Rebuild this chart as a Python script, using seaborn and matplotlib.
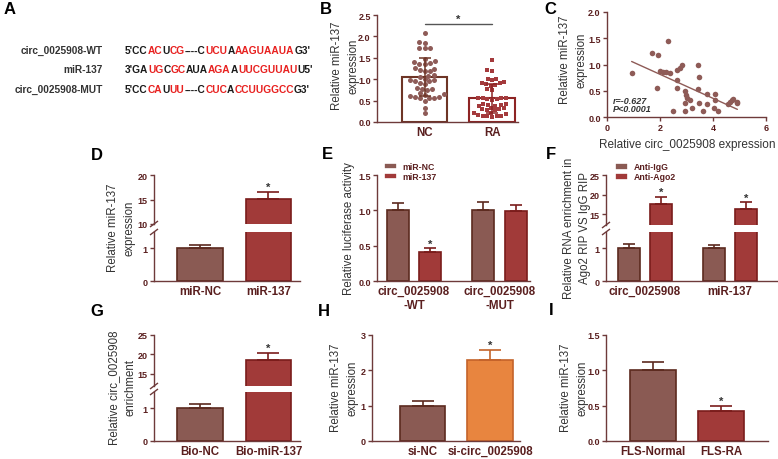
import warnings
import numpy as np
import pandas as pd
import matplotlib.pyplot as plt
import seaborn as sns

warnings.filterwarnings("ignore")

# ---------------- data ----------------
# A: sequences as (text, colour key) pieces
seq_names = ["circ_0025908-WT", "miR-137", "circ_0025908-MUT"]
seq_wt = [("5'CC", "k"), ("AC", "r"), ("U", "k"), ("CG", "r"), ("----C", "k"),
          ("UCU", "r"), ("A", "k"), ("AAGUAAUA", "r"), ("G3'", "k")]
seq_mir = [("3'GA", "k"), ("UG", "r"), ("C", "k"), ("GC", "r"), ("AUA", "k"),
           ("AGA", "r"), ("A", "k"), ("UUCGUUAU", "r"), ("U5'", "k")]
seq_mut = [("5'CC", "k"), ("CA", "r"), ("U", "k"), ("UU", "r"), ("----C", "k"),
           ("CUC", "r"), ("A", "k"), ("CCUUGGCC", "r"), ("G3'", "k")]

# B: individual samples
b_groups = ["NC", "RA"]
b_nc = [2.09, 1.86, 1.84, 1.74, 1.72, 1.73, 1.48, 1.42, 1.40, 1.38, 1.36, 1.35,
        1.27, 1.25, 1.22, 1.20, 1.18, 1.10, 1.08, 1.06, 1.00, 0.98, 0.97, 0.96,
        0.95, 0.90, 0.88, 0.80, 0.78, 0.76, 0.74, 0.68, 0.65, 0.64, 0.60, 0.59,
        0.58, 0.57, 0.56, 0.55, 0.50, 0.32, 0.20]
b_ra = [1.45, 1.22, 1.20, 1.00, 1.00, 0.97, 0.93, 0.92, 0.90, 0.88, 0.86, 0.84,
        0.76, 0.74, 0.57, 0.56, 0.55, 0.55, 0.54, 0.53, 0.52, 0.42, 0.41, 0.40,
        0.40, 0.38, 0.37, 0.33, 0.32, 0.30, 0.30, 0.28, 0.27, 0.22, 0.20, 0.18,
        0.16, 0.15, 0.14, 0.13, 0.13, 0.12]

# C: correlation
c_x = [0.93, 1.71, 1.94, 2.29, 1.90, 2.00, 2.13, 2.21, 2.38, 2.63, 2.63, 2.48, 2.65,
       2.75, 2.82, 2.94, 2.98, 3.03, 2.94, 2.94, 3.13, 3.20, 3.42, 3.46, 3.42, 3.48,
       3.61, 3.76, 3.79, 4.07, 4.07, 4.04, 4.20, 4.58, 4.64, 4.70, 4.74, 4.89, 4.92]
c_y = [0.83, 1.21, 1.19, 1.45, 0.55, 0.87, 0.85, 0.86, 0.83, 0.70, 0.55, 0.11, 0.90,
       0.93, 1.00, 0.49, 0.41, 0.37, 0.26, 0.11, 0.33, 0.18, 1.00, 0.77, 0.53, 0.26,
       0.11, 0.43, 0.25, 0.43, 0.33, 0.17, 0.11, 0.25, 0.28, 0.32, 0.34, 0.28, 0.26]

# D
d_groups = ["miR-NC", "miR-137"]
d_mean = [1.0, 15.1]
d_err = [0.1, 1.5]
# E
e_sites = ["circ_0025908\n-WT", "circ_0025908\n-MUT"]
e_conds = ["miR-NC", "miR-137"]
e_nc = [1.0, 1.0]
e_nc_err = [0.11, 0.12]
e_mir = [0.41, 0.99]
e_mir_err = [0.05, 0.08]
# F
f_targets = ["circ_0025908", "miR-137"]
f_conds = ["Anti-IgG", "Anti-Ago2"]
f_igg = [1.0, 1.0]
f_igg_err = [0.12, 0.10]
f_ago2 = [17.7, 16.2]
f_ago2_err = [1.6, 1.8]
# G
g_groups = ["Bio-NC", "Bio-miR-137"]
g_mean = [1.0, 18.6]
g_err = [0.12, 1.7]
# H
h_groups = ["si-NC", "si-circ_0025908"]
h_mean = [1.0, 2.28]
h_err = [0.12, 0.30]
# I
i_groups = ["FLS-Normal", "FLS-RA"]
i_mean = [1.0, 0.43]
i_err = [0.12, 0.07]

# ---------------- style ----------------
sns.set_style("ticks")
plt.rcParams["font.family"] = ["Liberation Sans", "DejaVu Sans"]
plt.rcParams["font.weight"] = "bold"

BROWN, BROWN_E = "#8A5A53", "#5C2A1F"
RED, RED_E = "#A13A39", "#7A1C1B"
ORANGE, ORANGE_E = "#E8853F", "#C4632A"
AX_C = "#6E3A3A"
TICK_C = "#5A1F1F"
LAB_C = "#333333"
SEQ_C = {"k": "#1a1a1a", "r": "#E8201F"}

W, H = 778, 460
fig = plt.figure(figsize=(W / 100, H / 100), dpi=100)

# overlay axes in pixel coordinates for free text
ov = fig.add_axes([0, 0, 1, 1], zorder=10)
ov.set_xlim(0, W)
ov.set_ylim(H, 0)
ov.axis("off")


def pax(l, t, r, b):
    return fig.add_axes([l / W, 1 - b / H, (r - l) / W, (b - t) / H])


def style(ax, xaxis=True):
    sns.despine(ax=ax, bottom=not xaxis)
    for s in ("left", "bottom"):
        ax.spines[s].set_color(AX_C)
        ax.spines[s].set_linewidth(1.0)
    ax.tick_params(axis="y", colors=AX_C, labelcolor=TICK_C, length=3, width=1,
                   labelsize=6.5, pad=1.5)
    ax.tick_params(axis="x", length=0, labelcolor=TICK_C, labelsize=8.3, pad=3)
    ax.set_xlabel("")
    ax.set_ylabel("")
    if not xaxis:
        ax.set_xticks([])


def ylab(x, y, text):
    ov.text(x, y, text, rotation=90, ha="center", va="center", fontsize=8.3,
            fontweight="normal", color=LAB_C, linespacing=1.5)


def letter(x, y, s):
    ov.text(x, y, s, ha="center", va="center", fontsize=12, fontweight="bold", color="black")


def brk(x, ys):
    for y in ys:
        ov.plot([x - 4, x + 4], [y + 3, y - 3], color=AX_C, lw=1, solid_capstyle="butt")


def bars(ax, groups, means, errs, fills, edges, width, capsize, stars=()):
    df = pd.DataFrame({"group": groups, "value": means})
    sns.barplot(data=df, x="group", y="value", hue="group", palette=fills, saturation=1,
                width=width, linewidth=1.2, errorbar=None, legend=False, ax=ax)
    for patch, m, e, ec, g in zip(ax.patches, means, errs, edges, groups):
        patch.set_edgecolor(ec)
        xc = patch.get_x() + patch.get_width() / 2
        ax.errorbar(xc, m, yerr=[[0], [e]], fmt="none", ecolor=ec, elinewidth=1.2,
                    capsize=capsize, capthick=1.2, zorder=1)
        if g in stars:
            ax.text(xc, m + e, "*", ha="center", va="bottom", fontsize=8, color=LAB_C)


def hue_bars(ax, cats, conds, vals, errs, fills, edges, stars):
    rows = [(c, k, v) for k, vs in zip(conds, vals) for c, v in zip(cats, vs)]
    df = pd.DataFrame(rows, columns=["cat", "cond", "value"])
    sns.barplot(data=df, x="cat", y="value", hue="cond", hue_order=conds, palette=fills,
                saturation=1, width=0.76, gap=0.32, linewidth=1.2, errorbar=None, ax=ax)
    for cont, vs, es, ec, st in zip(ax.containers, vals, errs, edges, stars):
        for patch, m, e, s in zip(cont.patches, vs, es, st):
            patch.set_edgecolor(ec)
            xc = patch.get_x() + patch.get_width() / 2
            ax.errorbar(xc, m, yerr=[[0], [e]], fmt="none", ecolor=ec, elinewidth=1.2,
                        capsize=4.3, capthick=1.2, zorder=1)
            if s:
                ax.text(xc, m + e, "*", ha="center", va="bottom", fontsize=8, color=LAB_C)


LEG = dict(loc="upper left", frameon=False, prop={"size": 6.3, "weight": "bold"},
           labelcolor=TICK_C, handlelength=1.5, handleheight=0.75, handletextpad=0.6,
           labelspacing=0.1, borderaxespad=0, borderpad=0)

# ---------------- A ----------------
letter(10, 10, "A")
rows_y = [51, 70, 90]
for name, parts, y in zip(seq_names, [seq_wt, seq_mir, seq_mut], rows_y):
    ov.text(103, y, name, ha="right", va="center", fontsize=7.3, color=LAB_C)
    t = ov.text(125, y, parts[0][0], ha="left", va="center", fontsize=7.3,
                color=SEQ_C[parts[0][1]])
    for txt, c in parts[1:]:
        t = ov.annotate(txt, xy=(1, 0), xycoords=t, ha="left", va="bottom",
                        fontsize=7.3, color=SEQ_C[c])

# ---------------- B ----------------
letter(326, 9, "B")
axB = pax(377, 16, 518, 123)
dfB = pd.DataFrame({"group": ["NC"] * len(b_nc) + ["RA"] * len(b_ra), "value": b_nc + b_ra})
sns.barplot(data=dfB, x="group", y="value", hue="group", order=b_groups,
            palette=["#6E3526", "#8E2424"], fill=False, linewidth=1.5, width=0.67,
            errorbar=None, legend=False, ax=axB)
sns.swarmplot(data=dfB[dfB.group == "NC"], x="group", y="value", order=b_groups,
              color="#8E5B57", size=3.6, marker="o", linewidth=0, ax=axB)
sns.swarmplot(data=dfB[dfB.group == "RA"], x="group", y="value", order=b_groups,
              color="#A43A3C", size=3.2, marker="s", linewidth=0, ax=axB)
for i, (vals, ec) in enumerate(zip([b_nc, b_ra], ["#6E3526", "#8E2424"])):
    axB.errorbar(i, np.mean(vals), yerr=np.std(vals, ddof=1), fmt="none", ecolor=ec,
                 elinewidth=1.1, capsize=4, capthick=1.1, zorder=5)
axB.plot([0, 1], [2.29, 2.29], color="#555555", lw=1)
axB.text(0.5, 2.29, "*", ha="center", va="bottom", fontsize=8, color=LAB_C)
axB.set_ylim(0, 2.5)
axB.set_yticks([0, 0.5, 1.0, 1.5, 2.0, 2.5])
axB.yaxis.set_major_formatter(plt.FormatStrFormatter("%.1f"))
axB.set_xlim(-0.704, 1.385)
style(axB)
ylab(345, 66, "Relative miR-137\nexpression")

# ---------------- C ----------------
letter(550, 9, "C")
axC = pax(607, 13, 766, 118)
sns.regplot(x=c_x, y=c_y, ci=None, ax=axC,
            scatter_kws={"s": 16, "color": "#8E5B57", "linewidths": 0, "alpha": 1},
            line_kws={"color": "#8E5B57", "lw": 1})
axC.set_xlim(0, 6)
axC.set_ylim(0, 2.0)
axC.set_xticks([0, 2, 4, 6])
axC.set_yticks([0, 0.5, 1.0, 1.5, 2.0])
axC.yaxis.set_major_formatter(plt.FormatStrFormatter("%.1f"))
style(axC)
axC.tick_params(axis="x", length=3, width=1, colors=AX_C, labelcolor=TICK_C,
                labelsize=6.5, pad=1.5)
axC.text(0.22, 0.32, "r=-0.627", style="italic", fontsize=6.5, color=LAB_C, va="center")
axC.text(0.22, 0.17, "P<0.0001", style="italic", fontsize=6.5, color=LAB_C, va="center")
ylab(573, 60, "Relative miR-137\nexpression")
ov.text(687, 145, "Relative circ_0025908 expression", ha="center", va="center",
        fontsize=8.5, fontweight="normal", color=LAB_C)

# ---------------- D ----------------
letter(97, 156, "D")
axDh = pax(154, 176, 300, 225)
axDl = pax(154, 233, 300, 282)
for ax in (axDh, axDl):
    bars(ax, d_groups, d_mean, d_err, [BROWN, RED], [BROWN_E, RED_E], 0.67, 8,
         stars=["miR-137"] if ax is axDh else ())
    ax.set_xlim(-0.672, 1.46)
axDh.set_ylim(10, 20)
axDh.set_yticks([10, 15, 20])
axDl.set_ylim(0, 1.5)
axDl.set_yticks([0, 1])
style(axDh, xaxis=False)
style(axDl)
brk(154, [225, 233])
ylab(121, 228, "Relative miR-137\nexpression")

# ---------------- E ----------------
letter(327, 155, "E")
axE = pax(377, 176, 530, 282)
hue_bars(axE, e_sites, e_conds, [e_nc, e_mir], [e_nc_err, e_mir_err],
         [BROWN, RED], [BROWN_E, RED_E], [[False, False], [True, False]])
axE.set_xlim(-0.433, 1.357)
axE.set_ylim(0, 1.5)
axE.set_yticks([0, 0.5, 1.0, 1.5])
axE.yaxis.set_major_formatter(plt.FormatStrFormatter("%.1f"))
style(axE)
axE.legend(bbox_to_anchor=(0.045, 1.12), **LEG)
ylab(349, 229, "Relative luciferase activity")

# ---------------- F ----------------
letter(551, 155, "F")
axFh = pax(606, 176, 777, 226)
axFl = pax(606, 233, 777, 282)
for ax in (axFh, axFl):
    hue_bars(ax, f_targets, f_conds, [f_igg, f_ago2], [f_igg_err, f_ago2_err],
             [BROWN, RED], [BROWN_E, RED_E],
             [[False, False], [True, True]] if ax is axFh else [[False] * 2] * 2)
    ax.set_xlim(-0.459, 1.553)
axFh.set_ylim(12.2, 25)
axFh.set_yticks([15, 20, 25])
axFl.set_ylim(0, 1.5)
axFl.set_yticks([0, 1])
style(axFh, xaxis=False)
style(axFl)
axFl.get_legend().remove()
axFh.legend(bbox_to_anchor=(0.053, 1.25), **LEG)
brk(606, [226, 233])
ylab(577, 228, "Relative RNA enrichment in\nAgo2 RIP VS IgG RIP")

# ---------------- G ----------------
letter(97, 312, "G")
axGh = pax(154, 336, 300, 387)
axGl = pax(154, 393, 300, 442)
for ax in (axGh, axGl):
    bars(ax, g_groups, g_mean, g_err, [BROWN, RED], [BROWN_E, RED_E], 0.67, 8,
         stars=["Bio-miR-137"] if ax is axGh else ())
    ax.set_xlim(-0.672, 1.46)
axGh.set_ylim(11.9, 25)
axGh.set_yticks([15, 20, 25])
axGl.set_ylim(0, 1.5)
axGl.set_yticks([0, 1])
style(axGh, xaxis=False)
style(axGl)
brk(154, [387, 393])
ylab(122, 388, "Relative circ_0025908\nenrichment")

# ---------------- H ----------------
letter(324, 312, "H")
axH = pax(372, 336, 520, 442)
bars(axH, h_groups, h_mean, h_err, [BROWN, ORANGE], [BROWN_E, ORANGE_E], 0.67, 8,
     stars=["si-circ_0025908"])
axH.set_xlim(-0.748, 1.444)
axH.set_ylim(0, 3)
axH.set_yticks([0, 1, 2, 3])
style(axH)
ylab(344, 388, "Relative miR-137\nexpression")

# ---------------- I ----------------
letter(551, 311, "I")
axI = pax(606, 336, 768, 442)
bars(axI, i_groups, i_mean, i_err, [BROWN, RED], [BROWN_E, RED_E], 0.68, 8,
     stars=["FLS-RA"])
axI.set_xlim(-0.69, 1.69)
axI.set_ylim(0, 1.5)
axI.set_yticks([0, 0.5, 1.0, 1.5])
axI.yaxis.set_major_formatter(plt.FormatStrFormatter("%.1f"))
style(axI)
ylab(574, 388, "Relative miR-137\nexpression")

fig.savefig("out.png", dpi=100)
